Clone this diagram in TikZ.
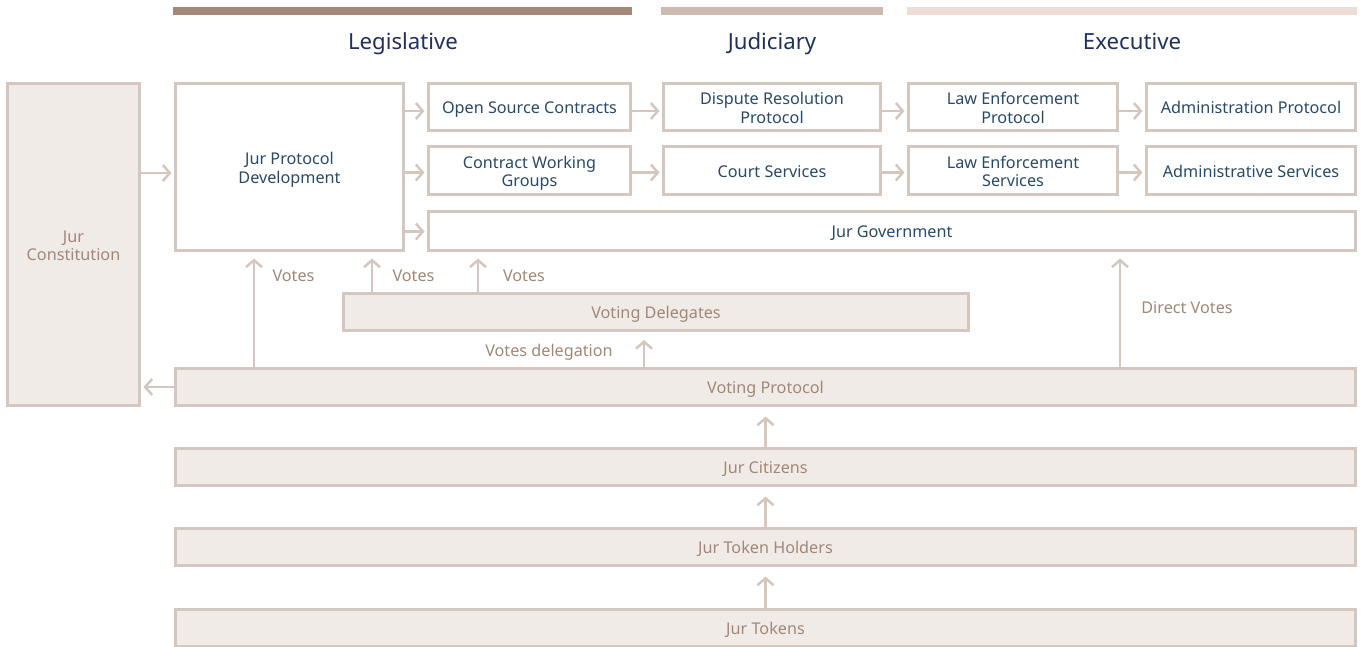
\documentclass[tikz,border=0pt]{standalone}
\usepackage{fontspec}
\setmainfont{Noto Sans}
\usetikzlibrary{arrows.meta}
\definecolor{bord}{HTML}{D4C7BF}
\definecolor{boxfill}{HTML}{F1EBE8}
\definecolor{darktext}{HTML}{2B4A66}
\definecolor{browntext}{HTML}{A08879}
\definecolor{headtext}{HTML}{22315A}
\definecolor{barA}{HTML}{A3887B}
\definecolor{barB}{HTML}{CDBAB0}
\definecolor{barC}{HTML}{EEDDD5}
\newcommand\bsa{\vrule width 0pt height 18.1pt depth 0pt\relax}
\newcommand\bsb{\vrule width 0pt height 0pt depth 4.5pt\relax}
\tikzset{
  anybox/.style={line width=3pt, inner sep=0pt, align=center,
    font=\fontsize{16.2}{18.5}\selectfont},
  wbox/.style={anybox, draw=bord, fill=white, text=darktext},
  fbox/.style={anybox, draw=bord, fill=boxfill, text=browntext},
  head/.style={text=headtext, font=\fontsize{22.2}{26}\selectfont, inner sep=0pt,
    text height=22.2pt, text depth=6.35pt},
  lbl/.style={text=browntext, font=\fontsize{16.2}{18.5}\selectfont, inner sep=0pt,
    text height=16.2pt, text depth=4.63pt},
  arr/.style={draw=bord, line width=2.5pt, -{Straight Barb[length=7pt,width=16pt]}, shorten >=2.5pt},
  varr/.style={arr, shorten >=6.5pt},
  barr/.style={arr, shorten >=9.5pt}
}
\begin{document}
\begin{tikzpicture}[x=1pt,y=-1pt]
\useasboundingbox (0,0) rectangle (1364,646);
% top bars
\fill[barA] (173,7) rectangle (632,15);
\fill[barB] (661,7) rectangle (883,15);
\fill[barC] (907,7) rectangle (1357,15);
\node[head] (hL) at (403,42) {Legislative};
\node[head] (hJ) at (772,42) {Judiciary};
\node[head] (hE) at (1132,42) {Executive};
% boxes
\node[fbox, minimum width=132pt, minimum height=322pt] (cons) at (73.5,244.5) {\bsa Jur\\Constitution\bsb};
\node[wbox, minimum width=228pt, minimum height=167pt] (jpd) at (289.5,167) {\bsa Jur Protocol\\Development\bsb};
\node[wbox, minimum width=202pt, minimum height=47pt] (osc) at (529.5,107) {\bsa Open Source Contracts\bsb};
\node[wbox, minimum width=217pt, minimum height=47pt] (drp) at (772,107) {\bsa Dispute Resolution\\Protocol\bsb};
\node[wbox, minimum width=209pt, minimum height=47pt] (lep) at (1013,107) {\bsa Law Enforcement\\Protocol\bsb};
\node[wbox, minimum width=209pt, minimum height=47pt] (ap) at (1251,107) {\bsa Administration Protocol\bsb};
\node[wbox, minimum width=202pt, minimum height=48pt] (cwg) at (529.5,170.5) {\bsa Contract Working\\Groups\bsb};
\node[wbox, minimum width=217pt, minimum height=48pt] (cs) at (772,170.5) {\bsa Court Services\bsb};
\node[wbox, minimum width=209pt, minimum height=48pt] (les) at (1013,170.5) {\bsa Law Enforcement\\Services\bsb};
\node[wbox, minimum width=209pt, minimum height=48pt] (as) at (1251,170.5) {\bsa Administrative Services\bsb};
\node[wbox, minimum width=927pt, minimum height=39pt] (gov) at (892,231) {\bsa Jur Government\bsb};
\node[fbox, minimum width=625pt, minimum height=37pt] (vd) at (656,312) {\bsa Voting Delegates\bsb};
\node[fbox, minimum width=1180pt, minimum height=37pt] (vp) at (765.5,387) {\bsa Voting Protocol\bsb};
\node[fbox, minimum width=1180pt, minimum height=37pt] (cit) at (765.5,467) {\bsa Jur Citizens\bsb};
\node[fbox, minimum width=1180pt, minimum height=37pt] (th) at (765.5,547) {\bsa Jur Token Holders\bsb};
\node[fbox, minimum width=1180pt, minimum height=37pt] (tok) at (765.5,627.5) {\bsa Jur Tokens\bsb};
% horizontal arrows
\draw[arr] ([yshift=-6pt]jpd.west -| cons.east) -- ([yshift=-6pt]jpd.west);
\draw[arr] ([yshift=-4pt]osc.west -| jpd.east) -- ([yshift=-4pt]osc.west);
\draw[arr] ([yshift=-2pt]cwg.west -| jpd.east) -- ([yshift=-2pt]cwg.west);
\draw[arr] ([yshift=-0.5pt]gov.west -| jpd.east) -- ([yshift=-0.5pt]gov.west);
\draw[arr] ([yshift=-4pt]osc.east) -- ([yshift=-4pt]drp.west);
\draw[arr] ([yshift=-4pt]drp.east) -- ([yshift=-4pt]lep.west);
\draw[arr] ([yshift=-4pt]lep.east) -- ([yshift=-4pt]ap.west);
\draw[arr] ([yshift=-2pt]cwg.east) -- ([yshift=-2pt]cs.west);
\draw[arr] ([yshift=-2pt]cs.east) -- ([yshift=-2pt]les.west);
\draw[arr] ([yshift=-2pt]les.east) -- ([yshift=-2pt]as.west);
\draw[arr] (vp.west) -- (vp.west -| cons.east);
% vertical arrows
\coordinate (x1) at (254,0);
\coordinate (x2) at (372,0);
\coordinate (x3) at (478,0);
\coordinate (x4) at (644,0);
\coordinate (x5) at (1120,0);
\draw[varr] (vp.north -| x1) -- (jpd.south -| x1);
\draw[varr] (vd.north -| x2) -- (jpd.south -| x2);
\draw[varr] (vd.north -| x3) -- (gov.south -| x3);
\draw[arr, shorten >=8pt] (vp.north -| x4) -- (vd.south -| x4);
\draw[varr] (vp.north -| x5) -- (gov.south -| x5);
\draw[barr] (cit.north) -- (vp.south);
\draw[barr] (th.north) -- (cit.south);
\draw[barr] (tok.north) -- (th.south);
% labels
\node[lbl] (l1) at (293.5,275.5) {Votes};
\node[lbl] (l2) at (413.5,275.5) {Votes};
\node[lbl] (l3) at (524,275.5) {Votes};
\node[lbl] (l4) at (549,351) {Votes delegation};
\node[lbl] (l5) at (1187,308) {Direct Votes};
\end{tikzpicture}
\end{document}
